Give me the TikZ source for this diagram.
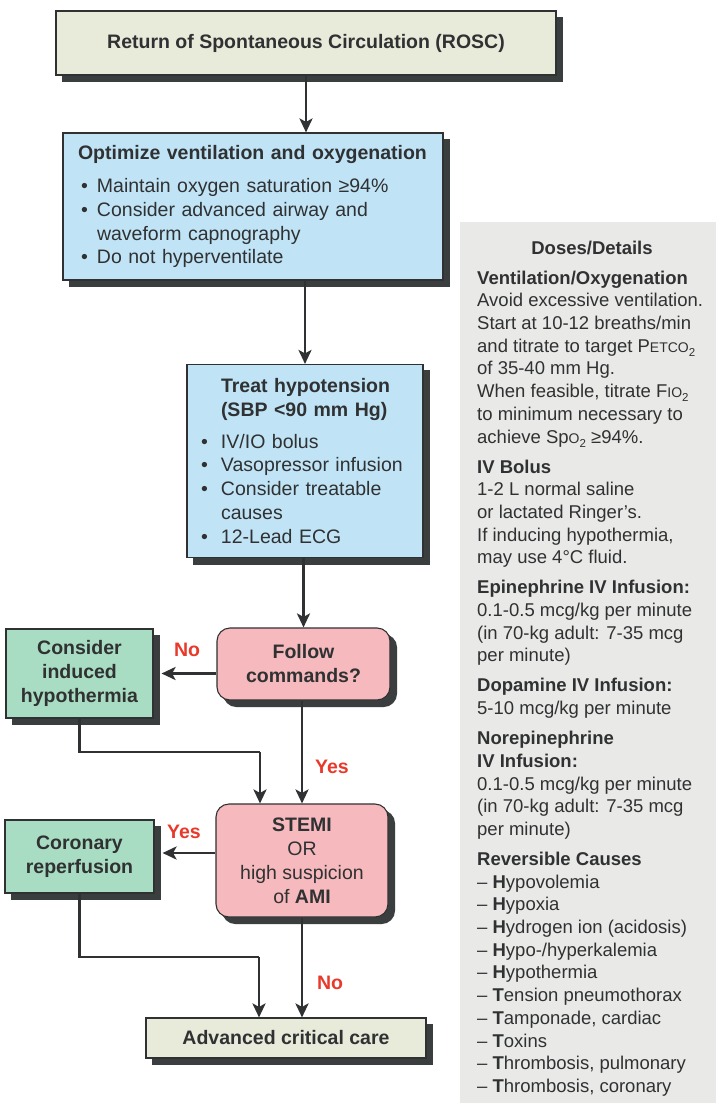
\documentclass[tikz,border=0pt]{standalone}
\usepackage{fontspec}
\setmainfont{Liberation Sans}
\usetikzlibrary{arrows.meta}

\definecolor{ink}{HTML}{2F3132}
\definecolor{shadowc}{HTML}{3B3E3E}
\definecolor{creamfill}{HTML}{E8EADA}
\definecolor{bluefill}{HTML}{C0E4F6}
\definecolor{greenfill}{HTML}{A9DDC3}
\definecolor{pinkfill}{HTML}{F6B9BD}
\definecolor{panelfill}{HTML}{E9EAE7}
\definecolor{answer}{HTML}{E8392B}

\newcommand\flowfont{\fontsize{19.5}{24}\selectfont}
\newcommand\listfont{\fontsize{19.5}{23.7}\selectfont}
\newcommand\panelfont{\fontsize{18.5}{22.7}\selectfont}
% small capitals and subscripts for gas symbols
\newcommand\smcx[1]{{\fontsize{14}{14}\selectfont #1}}
\newcommand\subtwo[1]{\raisebox{-4pt}{\fontsize{11.5}{11.5}\selectfont #1}}
\newcommand\dotA{\makebox[19pt][l]{\hspace*{3pt}•}}
\newcommand\dotB{\makebox[20pt][l]{•}}

\tikzset{
  box/.style={draw=ink, line width=1.1pt, text=ink, inner sep=0pt,
    preaction={fill=shadowc, draw=shadowc, transform canvas={shift={(6.5pt,-6.5pt)}}}},
  startbox/.style={box, fill=creamfill, font=\flowfont\bfseries},
  actbox/.style={box, fill=bluefill, font=\listfont, align=left},
  carebox/.style={box, fill=greenfill, font=\flowfont\bfseries, align=center},
  askbox/.style={box, fill=pinkfill, rounded corners=13pt, font=\flowfont, align=center},
  conn/.style={draw=ink, line width=2.9pt,
    -{Stealth[length=14pt, width=13pt, inset=3.5pt]}},
  plain/.style={draw=ink, line width=2.9pt},
  answerlab/.style={text=answer, font=\flowfont\bfseries, inner sep=0pt},
}

\begin{document}
\begin{tikzpicture}[x=1pt, y=-1pt]
\useasboundingbox (0,0) rectangle (716,1107);
\fill[white] (0,0) rectangle (716,1107);

% side panel with doses and details
\node[fill=panelfill, inner sep=0pt, minimum width=256pt, minimum height=881pt,
  anchor=north west] (panel) at (460,222) {};
\node[text=ink, font=\panelfont\bfseries, inner sep=0pt] (doses) at (592,248) {Doses/Details};
\node[text=ink, font=\panelfont, align=left, inner sep=0pt, anchor=north west] (details) at (477,270.5) {%
\textbf{Ventilation/Oxygenation}\\
Avoid excessive ventilation.\\
Start at 10-12 breaths/min\\
and titrate to target P\smcx{ETCO}\subtwo{2}\\
of 35-40 mm Hg.\\
When feasible, titrate F\smcx{IO}\subtwo{2}\\
to minimum necessary to\\
achieve Sp\smcx{O}\subtwo{2} ≥94\%.\\[7.3pt]
\textbf{IV Bolus}\\
1-2 L normal saline\\
or lactated Ringer’s.\\
If inducing hypothermia,\\
may use 4°C fluid.\\[7.3pt]
\textbf{Epinephrine IV Infusion:}\\
0.1-0.5 mcg/kg per minute\\
(in 70-kg adult: 7-35 mcg\\
per minute)\\[7.3pt]
\textbf{Dopamine IV Infusion:}\\
5-10 mcg/kg per minute\\[7.3pt]
\textbf{Norepinephrine}\\
\textbf{IV Infusion:}\\
0.1-0.5 mcg/kg per minute\\
(in 70-kg adult: 7-35 mcg\\
per minute)\\[7.3pt]
\textbf{Reversible Causes}\\
– \textbf{H}ypovolemia\\
– \textbf{H}ypoxia\\
– \textbf{H}ydrogen ion (acidosis)\\
– \textbf{H}ypo-/hyperkalemia\\
– \textbf{H}ypothermia\\
– \textbf{T}ension pneumothorax\\
– \textbf{T}amponade, cardiac\\
– \textbf{T}oxins\\
– \textbf{T}hrombosis, pulmonary\\
– \textbf{T}hrombosis, coronary};

% flow boxes
\node[startbox, minimum width=500pt, minimum height=64pt] (rosc) at (306,43)
  {Return of Spontaneous Circulation (ROSC)};

\node[actbox, minimum width=380pt, minimum height=147pt, text width=350pt, inner xsep=15pt] (vent) at (253,206.5) {%
\textbf{Optimize ventilation and oxygenation}\\[10pt]
\dotA Maintain oxygen saturation ≥94\%\\
\dotA Consider advanced airway and\\
\hspace*{19pt}waveform capnography\\
\dotA Do not hyperventilate};

\node[actbox, minimum width=236pt, minimum height=193pt, text width=208pt, inner xsep=14pt] (hypot) at (305,461) {%
\hspace*{20pt}\textbf{Treat hypotension}\\
\hspace*{20pt}\textbf{(SBP <90 mm Hg)}\\[8pt]
\dotB IV/IO bolus\\
\dotB Vasopressor infusion\\
\dotB Consider treatable\\
\hspace*{20pt}causes\\
\dotB 12-Lead ECG};

\node[askbox, minimum width=173pt, minimum height=72pt, font=\flowfont\bfseries] (follow) at (303.5,664)
  {Follow\\commands?};

\node[carebox, minimum width=147pt, minimum height=89pt] (cool) at (79.5,673.5)
  {Consider\\induced\\hypothermia};

\node[askbox, minimum width=172pt, minimum height=113pt] (stemi) at (302,860.5)
  {\textbf{STEMI}\\OR\\high suspicion\\of \textbf{AMI}};

\node[carebox, minimum width=149pt, minimum height=73pt] (reperf) at (79.5,856.5)
  {Coronary\\reperfusion};

\node[startbox, minimum width=280pt, minimum height=40pt] (care) at (286,1038)
  {Advanced critical care};

% junction points of the merging lines
\coordinate (j1) at (260,752);
\coordinate (j2) at (259,957);

% connectors
\draw[conn] (rosc.south) -- (rosc.south |- vent.north);
\draw[conn] (vent.south -| hypot.north) -- (hypot.north);
\draw[conn] (follow.north |- hypot.south) -- (follow.north);
\draw[conn, shorten >=8pt] (follow.west |- cool.east) -- (cool.east);
\draw[plain] (cool.south) |- (j1);
\draw[conn] (j1) -- (j1 |- stemi.north);
\draw[conn] (follow.south -| stemi.north) -- (stemi.north);
\draw[conn, shorten >=8pt] (stemi.west |- 0,853) -- (reperf.east |- 0,853);
\draw[plain] (reperf.south) |- (j2);
\draw[conn] (j2) -- (j2 |- care.north);
\draw[conn] (stemi.south) -- (stemi.south |- care.north);

% answer labels
\node[answerlab] (nocool) at (187,650) {No};
\node[answerlab] (yesstemi) at (332,767) {Yes};
\node[answerlab] (yesreperf) at (184,832) {Yes};
\node[answerlab] (nocare) at (330,983) {No};
\end{tikzpicture}
\end{document}
